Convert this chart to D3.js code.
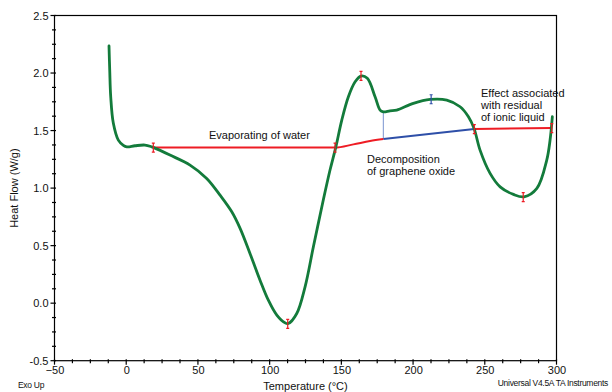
<!DOCTYPE html>
<html>
<head>
<meta charset="utf-8">
<script src="https://cdn.jsdelivr.net/npm/d3@7/dist/d3.min.js"></script>
<style>
  html, body { margin: 0; padding: 0; background: #fff; }
  svg { display: block; font-family: "Liberation Sans", Arial, sans-serif; }
</style>
</head>
<body>
<svg id="chart" width="612" height="392"></svg>
<script>
// DSC thermogram: heat flow vs temperature
const temperature = [-12.0, -11.5, -10.8, -9.0, -5.5, -2.0, 0.4, 6.1, 13.1, 17.8, 18.9, 30.5, 44.5, 56.1, 65.4, 73.6, 79.4, 86.3, 93.3, 99.1, 105.0, 110.7, 113.0, 118.9, 124.7, 130.5, 137.4, 142.1, 146.1, 150.3, 154.9, 159.6, 163.7, 168.1, 173.5, 177.0, 179.3, 183.9, 188.6, 200.2, 211.9, 223.5, 232.8, 238.6, 242.5, 246.7, 253.7, 260.7, 270.0, 277.4, 286.3, 293.2, 295.5, 297.1];
const heatFlow    = [2.235, 2.026, 1.794, 1.565, 1.417, 1.372, 1.359, 1.368, 1.374, 1.359, 1.354, 1.287, 1.200, 1.084, 0.939, 0.794, 0.650, 0.432, 0.200, 0.026, -0.104, -0.171, -0.177, -0.090, 0.142, 0.490, 0.896, 1.157, 1.354, 1.591, 1.794, 1.924, 1.974, 1.954, 1.794, 1.678, 1.663, 1.672, 1.678, 1.737, 1.771, 1.765, 1.707, 1.620, 1.519, 1.330, 1.128, 1.011, 0.945, 0.924, 0.997, 1.243, 1.416, 1.620];

// Integration baselines
const waterBaseT  = [18.9, 145.6, 158.4, 170.0, 179.3];
const waterBaseHF = [1.352, 1.352, 1.380, 1.409, 1.426];
const goBaseT     = [179.3, 242.7];
const goBaseHF    = [1.426, 1.513];
const ilBaseT     = [242.7, 296.7];
const ilBaseHF    = [1.513, 1.522];
const dropT       = [179.3, 179.3];
const dropHF      = [1.426, 1.663];

// Analysis cursors
const redMarkT  = [18.9, 145.6, 163.7, 112.6, 242.7, 296.7, 276.8];
const redMarkHF = [1.352, 1.352, 1.975, -0.18, 1.513, 1.522, 0.922];
const blueMarkT  = [212.6];
const blueMarkHF = [1.772];

// Axes
const xMajor = [-50, 0, 50, 100, 150, 200, 250, 300];
const yMajor = [-0.5, 0.0, 0.5, 1.0, 1.5, 2.0, 2.5];
const yMajorLabels = ["-0.5", "0.0", "0.5", "1.0", "1.5", "2.0", "2.5"];

const svg = d3.select("#chart");
const x = d3.scaleLinear().domain([-50, 300]).range([54.5, 556.5]);
const y = d3.scaleLinear().domain([-0.5, 2.5]).range([360.7, 15.5]);

const x0 = x.range()[0], x1 = x.range()[1];
const yB = y.range()[0], yT = y.range()[1];

// Frame
svg.append("rect")
  .attr("x", x0).attr("y", yT)
  .attr("width", x1 - x0).attr("height", yB - yT)
  .attr("fill", "none").attr("stroke", "#000").attr("stroke-width", 1.2);

// Minor/major ticks crossing the axes
const xMinor = d3.range(-50, 300.01, 12.5);
const yMinor = d3.range(-0.5, 2.501, 0.125);

svg.append("g").selectAll("line").data(xMinor).join("line")
  .attr("x1", d => x(d)).attr("x2", d => x(d))
  .attr("y1", yB - 1.5)
  .attr("y2", d => yB + (xMajor.includes(d) ? 4 : 2.5))
  .attr("stroke", "#000").attr("stroke-width", 1.2);

svg.append("g").selectAll("line").data(yMinor).join("line")
  .attr("y1", d => y(d)).attr("y2", d => y(d))
  .attr("x1", x0 + 1.5)
  .attr("x2", d => x0 - (yMajor.some(v => Math.abs(v - d) < 1e-9) ? 4 : 2.5))
  .attr("stroke", "#000").attr("stroke-width", 1.2);

// Tick labels via d3 axes (tick lines suppressed, drawn above)
const xAxis = svg.append("g").attr("transform", `translate(0,${yB})`)
  .call(d3.axisBottom(x).tickValues(xMajor).tickSize(0).tickPadding(6).tickFormat(d3.format("d")));
const yAxis = svg.append("g").attr("transform", `translate(${x0},0)`)
  .call(d3.axisLeft(y).tickValues(yMajor).tickSize(0).tickPadding(6).tickFormat((d, i) => yMajorLabels[i]));
[xAxis, yAxis].forEach(g => {
  g.select(".domain").remove();
  g.selectAll("text").attr("font-size", 11).attr("fill", "#111")
    .attr("font-family", "'Liberation Sans', Arial, sans-serif");
});

// Axis titles
svg.append("text")
  .attr("x", (x0 + x1) / 2).attr("y", 390)
  .attr("text-anchor", "middle").attr("font-size", 11).attr("fill", "#111")
  .text("Temperature (°C)");
svg.append("text")
  .attr("transform", `translate(18,${(yB + yT) / 2}) rotate(-90)`)
  .attr("text-anchor", "middle").attr("font-size", 11).attr("fill", "#111")
  .text("Heat Flow (W/g)");
svg.append("text")
  .attr("x", 18).attr("y", 388)
  .attr("font-size", 8.5).attr("letter-spacing", -0.3).attr("fill", "#111")
  .text("Exo Up");
svg.append("text")
  .attr("x", 608).attr("y", 386).attr("text-anchor", "end")
  .attr("font-size", 8.5).attr("letter-spacing", -0.3).attr("fill", "#111")
  .text("Universal V4.5A TA Instruments");

// Baselines
const pts = (ts, hs) => ts.map((t, i) => [t, hs[i]]);
const line = d3.line().x(d => x(d[0])).y(d => y(d[1]));
const mono = d3.line().x(d => x(d[0])).y(d => y(d[1])).curve(d3.curveMonotoneX);
const smooth = d3.line().x(d => x(d[0])).y(d => y(d[1])).curve(d3.curveCatmullRom.alpha(0.5));

svg.append("path").datum(pts(dropT, dropHF))
  .attr("d", line).attr("fill", "none").attr("stroke", "#8fa6d8").attr("stroke-width", 1.2);
svg.append("path").datum(pts(goBaseT, goBaseHF))
  .attr("d", line).attr("fill", "none").attr("stroke", "#2e4fa8").attr("stroke-width", 2);
svg.append("path").datum(pts(waterBaseT, waterBaseHF))
  .attr("d", mono).attr("fill", "none").attr("stroke", "#ee1c24").attr("stroke-width", 2);
svg.append("path").datum(pts(ilBaseT, ilBaseHF))
  .attr("d", line).attr("fill", "none").attr("stroke", "#ee1c24").attr("stroke-width", 2);

// Heat flow curve
svg.append("path").datum(pts(temperature, heatFlow))
  .attr("d", smooth).attr("fill", "none").attr("stroke", "#137b3b")
  .attr("stroke-width", 2.8).attr("stroke-linejoin", "round").attr("stroke-linecap", "round");

// I-beam cursors
function cursors(ts, hs, color) {
  const g = svg.append("g").attr("stroke", color).attr("stroke-width", 1.2).attr("fill", "none");
  pts(ts, hs).forEach(([t, h]) => {
    const cx = x(t), cy = y(h);
    g.append("path").attr("d",
      `M${cx},${cy - 4.5}V${cy + 4.5}` +
      `M${cx - 1.5},${cy - 4.5}H${cx + 1.5}` +
      `M${cx - 1.5},${cy + 4.5}H${cx + 1.5}`);
  });
}
cursors(redMarkT, redMarkHF, "#ee1c24");
cursors(blueMarkT, blueMarkHF, "#2e4fa8");

// Annotations
const note = (lines, tx, ty) => {
  const t = svg.append("text").attr("font-size", 11).attr("fill", "#111");
  lines.forEach((s, i) => t.append("tspan").attr("x", tx).attr("y", ty + i * 12).text(s));
};
note(["Evaporating of water"], 209, 139);
note(["Decomposition", "of graphene oxide"], 367, 163);
note(["Effect associated", "with residual", "of ionic liquid"], 481, 97);
</script>
</body>
</html>
